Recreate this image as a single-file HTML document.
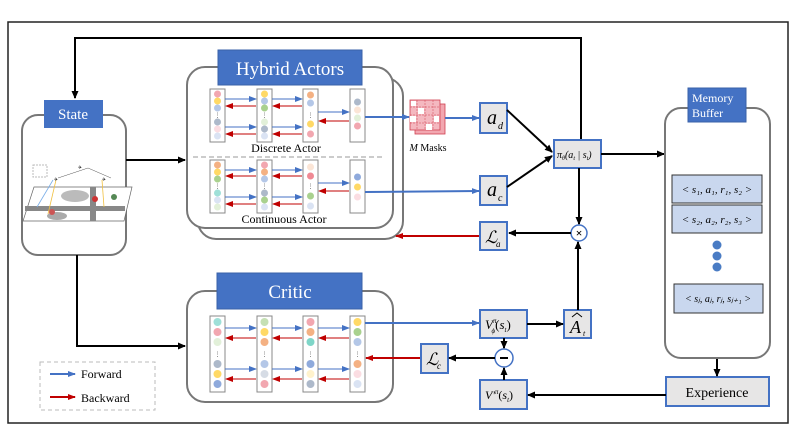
<!DOCTYPE html>
<html><head><meta charset="utf-8"><style>
html,body{margin:0;padding:0;background:#fff}
svg{display:block}
text{font-family:"Liberation Serif",serif}
</style></head><body>
<svg width="793" height="446" viewBox="0 0 793 446" xmlns="http://www.w3.org/2000/svg">
<defs>
<marker id="ak" markerWidth="8" markerHeight="8" refX="7" refY="4" orient="auto" markerUnits="userSpaceOnUse"><path d="M0,0.5 L8,4 L0,7.5z" fill="#000"/></marker>
<marker id="ab" markerWidth="8" markerHeight="8" refX="7" refY="4" orient="auto" markerUnits="userSpaceOnUse"><path d="M0,1 L8,4 L0,7z" fill="#4472c4"/></marker>
<marker id="ar" markerWidth="8" markerHeight="8" refX="7" refY="4" orient="auto" markerUnits="userSpaceOnUse"><path d="M0,1 L8,4 L0,7z" fill="#c00000"/></marker>
</defs>
<rect x="8" y="22" width="780" height="401" fill="none" stroke="#222" stroke-width="1.5"/>

<!-- loop -->
<polyline points="581,148 581,38 75,38 75,98" fill="none" stroke="#000" stroke-width="2" marker-end="url(#ak)"/>

<!-- State -->
<rect x="22" y="115" width="104" height="140" rx="16" fill="#fff" stroke="#777" stroke-width="2"/>
<rect x="44" y="100" width="59" height="28" fill="#4472c4"/>
<text x="73" y="119" font-size="15" fill="#fff" text-anchor="middle">State</text>
<g>
<rect x="33" y="165" width="14" height="12" fill="none" stroke="#bbb" stroke-dasharray="2,1"/>
<polygon points="34,187 132,187 124,221 23,221" fill="#fff" stroke="#666" stroke-width="0.7"/>
<rect x="25" y="206" width="100" height="5" fill="#888"/>
<rect x="90" y="187" width="6" height="34" fill="#888"/>
<ellipse cx="75" cy="196" rx="14" ry="6" fill="#bbb"/>
<ellipse cx="57" cy="216" rx="10" ry="4" fill="#aaa"/>
<circle cx="52" cy="212" r="3" fill="#c55"/><circle cx="95" cy="199" r="3" fill="#c33"/><circle cx="114" cy="197" r="3" fill="#585"/>
<line x1="53" y1="180" x2="37" y2="207" stroke="#7aaee8" stroke-width="0.8"/>
<line x1="56" y1="180" x2="48" y2="214" stroke="#f0c040" stroke-width="0.8"/>
<line x1="102" y1="180" x2="104" y2="207" stroke="#f0c040" stroke-width="0.8"/>
<line x1="58" y1="178" x2="88" y2="168" stroke="#555" stroke-width="0.5"/>
<line x1="88" y1="168" x2="111" y2="178" stroke="#555" stroke-width="0.5"/>
<text x="80" y="169" font-size="5" text-anchor="middle">✈</text>
<text x="56" y="181" font-size="5" text-anchor="middle">✈</text>
<text x="104" y="181" font-size="5" text-anchor="middle">✈</text>
</g>
<line x1="126" y1="160" x2="185" y2="160" stroke="#000" stroke-width="2" marker-end="url(#ak)"/>
<polyline points="77,255 77,346 185,346" fill="none" stroke="#000" stroke-width="2" marker-end="url(#ak)"/>

<!-- Hybrid actors -->
<rect x="198" y="78" width="205" height="161" rx="18" fill="#fff" stroke="#777" stroke-width="2"/>
<rect x="187" y="67" width="206" height="161" rx="18" fill="#fff" stroke="#777" stroke-width="2"/>
<rect x="218" y="50" width="144" height="35" fill="#4472c4" stroke="#3a62a8"/>
<text x="290" y="75" font-size="19" fill="#fff" text-anchor="middle">Hybrid Actors</text>
<line x1="193" y1="157" x2="385" y2="157" stroke="#999" stroke-dasharray="5,3"/>
<text x="286" y="152" font-size="12" text-anchor="middle">Discrete Actor</text>
<text x="284" y="223" font-size="12" text-anchor="middle">Continuous Actor</text>

<!-- critic -->
<rect x="187" y="291" width="206" height="111" rx="18" fill="#fff" stroke="#777" stroke-width="2"/>
<rect x="217" y="273" width="145" height="36" fill="#4472c4" stroke="#3a62a8"/>
<text x="290" y="298" font-size="19" fill="#fff" text-anchor="middle">Critic</text>

<!-- columns -->
<g stroke="#888" fill="#fff" stroke-width="1">
<rect x="210" y="89" width="15" height="53"/><rect x="257" y="89" width="15" height="53"/><rect x="303" y="89" width="15" height="53"/><rect x="350" y="89" width="15" height="53"/>
<rect x="210" y="160" width="15" height="53"/><rect x="257" y="160" width="15" height="53"/><rect x="303" y="160" width="15" height="53"/><rect x="350" y="160" width="15" height="53"/>
<rect x="210" y="316" width="15" height="76"/><rect x="257" y="316" width="15" height="76"/><rect x="303" y="316" width="15" height="76"/><rect x="350" y="316" width="15" height="76"/>
</g>
<g>
<circle cx="217.5" cy="94" r="3.5" fill="#f2a7b0"/><circle cx="217.5" cy="101" r="3.5" fill="#ffd966"/><circle cx="217.5" cy="108" r="3.5" fill="#b4c7e7"/><circle cx="217.5" cy="122" r="3.5" fill="#adb9ca"/><circle cx="217.5" cy="129" r="3.5" fill="#fbdde2"/><circle cx="217.5" cy="136" r="3.5" fill="#dae3f3"/>
<circle cx="264.5" cy="94" r="3.5" fill="#ffd966"/><circle cx="264.5" cy="101" r="3.5" fill="#b4c7e7"/><circle cx="264.5" cy="108" r="3.5" fill="#a9d18e"/><circle cx="264.5" cy="122" r="3.5" fill="#e2f0d9"/><circle cx="264.5" cy="129" r="3.5" fill="#adb9ca"/><circle cx="264.5" cy="136" r="3.5" fill="#dae3f3"/>
<circle cx="310.5" cy="95" r="3.5" fill="#f4b183"/><circle cx="310.5" cy="103" r="3.5" fill="#b4c7e7"/><circle cx="310.5" cy="124" r="3.5" fill="#ffd966"/><circle cx="310.5" cy="134" r="3.5" fill="#f2a7b0"/>
<circle cx="357.5" cy="102" r="3.5" fill="#adb9ca"/><circle cx="357.5" cy="110" r="3.5" fill="#fbe5d6"/><circle cx="357.5" cy="118" r="3.5" fill="#e2f0d9"/><circle cx="357.5" cy="126" r="3.5" fill="#f2a7b0"/>
<circle cx="217.5" cy="165" r="3.5" fill="#f4b183"/><circle cx="217.5" cy="172" r="3.5" fill="#ffd966"/><circle cx="217.5" cy="179" r="3.5" fill="#a9d18e"/><circle cx="217.5" cy="193" r="3.5" fill="#9fe0d8"/><circle cx="217.5" cy="200" r="3.5" fill="#dae3f3"/><circle cx="217.5" cy="207" r="3.5" fill="#e2f0d9"/>
<circle cx="264.5" cy="165" r="3.5" fill="#f2a7b0"/><circle cx="264.5" cy="172" r="3.5" fill="#f4b183"/><circle cx="264.5" cy="179" r="3.5" fill="#b4c7e7"/><circle cx="264.5" cy="193" r="3.5" fill="#adb9ca"/><circle cx="264.5" cy="200" r="3.5" fill="#a9d18e"/><circle cx="264.5" cy="207" r="3.5" fill="#dae3f3"/>
<circle cx="310.5" cy="167" r="3.5" fill="#fbe5d6"/><circle cx="310.5" cy="176" r="3.5" fill="#f08a94"/><circle cx="310.5" cy="196" r="3.5" fill="#a9d18e"/><circle cx="310.5" cy="206" r="3.5" fill="#dae3f3"/>
<circle cx="357.5" cy="177" r="3.5" fill="#8faadc"/><circle cx="357.5" cy="187" r="3.5" fill="#ffd966"/><circle cx="357.5" cy="197" r="3.5" fill="#fbdde2"/>
<circle cx="217.5" cy="322" r="4" fill="#9fe0d8"/><circle cx="217.5" cy="332" r="4" fill="#f2a7b0"/><circle cx="217.5" cy="342" r="4" fill="#e2f0d9"/><circle cx="217.5" cy="364" r="4" fill="#adb9ca"/><circle cx="217.5" cy="374" r="4" fill="#ffd966"/><circle cx="217.5" cy="384" r="4" fill="#8faadc"/>
<circle cx="264.5" cy="322" r="4" fill="#c5e0b4"/><circle cx="264.5" cy="332" r="4" fill="#ffd966"/><circle cx="264.5" cy="342" r="4" fill="#f4b183"/><circle cx="264.5" cy="364" r="4" fill="#b4c7e7"/><circle cx="264.5" cy="374" r="4" fill="#d6dce5"/><circle cx="264.5" cy="384" r="4" fill="#f2a7b0"/>
<circle cx="310.5" cy="322" r="4" fill="#f2a7b0"/><circle cx="310.5" cy="332" r="4" fill="#f4b183"/><circle cx="310.5" cy="342" r="4" fill="#7fd6c8"/><circle cx="310.5" cy="364" r="4" fill="#8faadc"/><circle cx="310.5" cy="374" r="4" fill="#fff2cc"/><circle cx="310.5" cy="384" r="4" fill="#adb9ca"/>
<circle cx="357.5" cy="322" r="4" fill="#ffd966"/><circle cx="357.5" cy="332" r="4" fill="#a9d18e"/><circle cx="357.5" cy="342" r="4" fill="#b4c7e7"/><circle cx="357.5" cy="364" r="4" fill="#f4b183"/><circle cx="357.5" cy="374" r="4" fill="#fbdde2"/><circle cx="357.5" cy="384" r="4" fill="#dae3f3"/>
</g>
<g font-size="6" text-anchor="middle" fill="#555"><text x="217.5" y="117">⋮</text><text x="264.5" y="117">⋮</text><text x="310.5" y="117">⋮</text><text x="217.5" y="188">⋮</text><text x="264.5" y="188">⋮</text><text x="310.5" y="188">⋮</text>
<text x="217.5" y="356">⋮</text><text x="264.5" y="356">⋮</text><text x="310.5" y="356">⋮</text><text x="357.5" y="356">⋮</text></g>
<g stroke="#4472c4" stroke-width="1" marker-end="url(#ab)">
<line x1="225" y1="99" x2="256" y2="99"/><line x1="272" y1="99" x2="302" y2="99"/><line x1="225" y1="127" x2="256" y2="127"/><line x1="272" y1="127" x2="302" y2="127"/><line x1="318" y1="112" x2="349" y2="112"/>
<line x1="225" y1="170" x2="256" y2="170"/><line x1="272" y1="170" x2="302" y2="170"/><line x1="225" y1="197" x2="256" y2="197"/><line x1="272" y1="197" x2="302" y2="197"/><line x1="318" y1="183" x2="349" y2="183"/>
<line x1="225" y1="328" x2="256" y2="328"/><line x1="272" y1="328" x2="302" y2="328"/><line x1="318" y1="328" x2="349" y2="328"/>
<line x1="225" y1="369" x2="256" y2="369"/><line x1="272" y1="369" x2="302" y2="369"/><line x1="318" y1="369" x2="349" y2="369"/>
</g>
<g stroke="#c00000" stroke-width="1" marker-end="url(#ar)">
<line x1="256" y1="106" x2="226" y2="106"/><line x1="302" y1="106" x2="273" y2="106"/><line x1="256" y1="134" x2="226" y2="134"/><line x1="302" y1="134" x2="273" y2="134"/><line x1="349" y1="121" x2="319" y2="121"/>
<line x1="256" y1="176" x2="226" y2="176"/><line x1="302" y1="176" x2="273" y2="176"/><line x1="256" y1="204" x2="226" y2="204"/><line x1="302" y1="204" x2="273" y2="204"/><line x1="349" y1="191" x2="319" y2="191"/>
<line x1="256" y1="338" x2="226" y2="338"/><line x1="302" y1="338" x2="273" y2="338"/><line x1="349" y1="338" x2="319" y2="338"/>
<line x1="256" y1="379" x2="226" y2="379"/><line x1="302" y1="379" x2="273" y2="379"/><line x1="349" y1="379" x2="319" y2="379"/>
</g>

<!-- masks -->
<g>
<rect x="415" y="104" width="30" height="30" fill="#f2a7b0" stroke="#d04050" stroke-width="0.8"/>
<rect x="410" y="100" width="30" height="30" fill="#f4b8c0" stroke="#d04050" stroke-width="0.8"/>
<g stroke="#d04050" stroke-width="0.5" stroke-dasharray="2,1"><line x1="417" y1="100" x2="417" y2="130"/><line x1="425" y1="100" x2="425" y2="130"/><line x1="433" y1="100" x2="433" y2="130"/><line x1="410" y1="107" x2="440" y2="107"/><line x1="410" y1="115" x2="440" y2="115"/><line x1="410" y1="123" x2="440" y2="123"/></g>
<rect x="411" y="101" width="5" height="5" fill="#fff"/><rect x="418" y="108" width="6" height="6" fill="#fff"/><rect x="434" y="116" width="5" height="6" fill="#fff"/><rect x="410" y="116" width="6" height="6" fill="#fff"/><rect x="426" y="124" width="6" height="6" fill="#fff"/>
</g>
<text x="428" y="151" font-size="10" text-anchor="middle"><tspan font-style="italic">M</tspan>  Masks</text>
<line x1="365" y1="117" x2="409" y2="117" stroke="#4472c4" stroke-width="2" marker-end="url(#ab)"/>
<line x1="445" y1="118" x2="479" y2="118" stroke="#4472c4" stroke-width="2" marker-end="url(#ab)"/>
<line x1="365" y1="192" x2="479" y2="191" stroke="#4472c4" stroke-width="2" marker-end="url(#ab)"/>
<line x1="480" y1="236" x2="396" y2="236" stroke="#c00000" stroke-width="2" marker-end="url(#ar)"/>
<line x1="365" y1="323" x2="479" y2="323" stroke="#4472c4" stroke-width="2" marker-end="url(#ab)"/>
<line x1="421" y1="358" x2="366" y2="358" stroke="#c00000" stroke-width="2" marker-end="url(#ar)"/>

<!-- boxes -->
<g fill="#e7e6e6" stroke="#4472c4" stroke-width="2">
<rect x="480" y="103" width="27" height="30"/>
<rect x="480" y="176" width="27" height="29"/>
<rect x="554" y="140" width="47" height="28"/>
<rect x="480" y="222" width="27" height="28"/>
<rect x="480" y="310" width="47" height="28"/>
<rect x="564" y="310" width="27" height="28"/>
<rect x="421" y="344" width="27" height="29"/>
<rect x="480" y="380" width="47" height="29"/>
<rect x="666" y="377" width="103" height="29"/>
</g>
<g font-style="italic">
<text x="487" y="124" font-size="20">a</text><text x="498" y="129" font-size="10">d</text>
<text x="487" y="196" font-size="20">a</text><text x="498" y="201" font-size="10">c</text>
<text x="557" y="158" font-size="10">π<tspan font-size="6" dy="2">θ</tspan><tspan dy="-2">(a</tspan><tspan font-size="6" dy="2">t</tspan><tspan dy="-2"> | s</tspan><tspan font-size="6" dy="2">t</tspan><tspan dy="-2">)</tspan></text>
<text x="485" y="243" font-size="17">ℒ</text><text x="496" y="247" font-size="9">a</text>
<text x="426" y="365" font-size="17">ℒ</text><text x="437" y="369" font-size="9">c</text>
<text x="485" y="329" font-size="13">V<tspan font-size="7" dy="-6">π</tspan><tspan font-size="7" dx="-5" dy="10">ϕ</tspan><tspan font-size="13" dy="-4" font-style="normal">(</tspan>s<tspan font-size="7" dy="3">t</tspan><tspan font-size="13" dy="-3" font-style="normal">)</tspan></text>
<text x="570" y="333" font-size="18">A</text><text x="583" y="336" font-size="8">t</text>
<text x="485" y="399" font-size="12">V'<tspan font-size="7" dy="-5">π</tspan><tspan dy="5" font-style="normal">(</tspan>s<tspan font-size="7" dy="3">t</tspan><tspan dy="-3" font-style="normal">)</tspan></text>
</g>
<polyline points="572,317 577,313 582,317" fill="none" stroke="#000" stroke-width="1"/>
<text x="717" y="397" font-size="14" text-anchor="middle">Experience</text>

<!-- circles -->
<circle cx="579" cy="233" r="8" fill="#fff" stroke="#4472c4" stroke-width="1.5"/>
<text x="579" y="237" font-size="12" text-anchor="middle" font-weight="bold" font-family="Liberation Sans,sans-serif">×</text>
<circle cx="504" cy="358" r="9" fill="#fff" stroke="#4472c4" stroke-width="1.5"/>
<line x1="500" y1="358" x2="508" y2="358" stroke="#000" stroke-width="2"/>

<!-- black connectors -->
<g stroke="#000" stroke-width="2" fill="none">
<line x1="507" y1="110" x2="552" y2="152" marker-end="url(#ak)"/>
<line x1="507" y1="187" x2="552" y2="156" marker-end="url(#ak)"/>
<line x1="579" y1="168" x2="579" y2="224" marker-end="url(#ak)"/>
<line x1="571" y1="233" x2="509" y2="233" marker-end="url(#ak)"/>
<line x1="578" y1="310" x2="578" y2="242" marker-end="url(#ak)"/>
<line x1="527" y1="324" x2="563" y2="324" marker-end="url(#ak)"/>
<line x1="601" y1="154" x2="664" y2="154" marker-end="url(#ak)"/>
<line x1="504" y1="338" x2="504" y2="348" marker-end="url(#ak)"/>
<line x1="504" y1="380" x2="504" y2="368" marker-end="url(#ak)"/>
<line x1="495" y1="358" x2="449" y2="358" marker-end="url(#ak)"/>
<line x1="666" y1="395" x2="528" y2="395" marker-end="url(#ak)"/>
<line x1="717" y1="358" x2="717" y2="376" marker-end="url(#ak)"/>
</g>

<!-- memory buffer -->
<rect x="665" y="108" width="105" height="250" rx="16" fill="#fff" stroke="#777" stroke-width="2"/>
<rect x="688" y="88" width="58" height="34" fill="#4472c4" stroke="#3a62a8"/>
<text x="692" y="102" font-size="12" fill="#fff">Memory</text>
<text x="692" y="117" font-size="12" fill="#fff">Buffer</text>
<g fill="#c9d7ee" stroke="#333" stroke-width="1">
<rect x="672" y="175" width="90" height="28"/><rect x="672" y="205" width="90" height="28"/><rect x="674" y="284" width="89" height="29"/>
</g>
<g font-size="11" text-anchor="middle" font-style="italic">
<text x="717" y="193">&lt; s₁, a₁, r₁, s₂ &gt;</text>
<text x="717" y="223">&lt; s₂, a₂, r₂, s₃ &gt;</text>
<text x="718" y="302" font-size="10">&lt; sⱼ, aⱼ, rⱼ, sⱼ₊₁ &gt;</text>
</g>
<circle cx="717" cy="245" r="4.5" fill="#4a7cc4"/><circle cx="717" cy="256" r="4.5" fill="#4a7cc4"/><circle cx="717" cy="267" r="4.5" fill="#4a7cc4"/>

<!-- legend -->
<rect x="40" y="362" width="115" height="48" fill="none" stroke="#bbb" stroke-dasharray="4,3"/>
<line x1="50" y1="374" x2="75" y2="374" stroke="#4472c4" stroke-width="2" marker-end="url(#ab)"/>
<line x1="50" y1="397" x2="75" y2="397" stroke="#c00000" stroke-width="2" marker-end="url(#ar)"/>
<text x="81" y="378" font-size="12">Forward</text>
<text x="81" y="402" font-size="12">Backward</text>
</svg>
</body></html>
